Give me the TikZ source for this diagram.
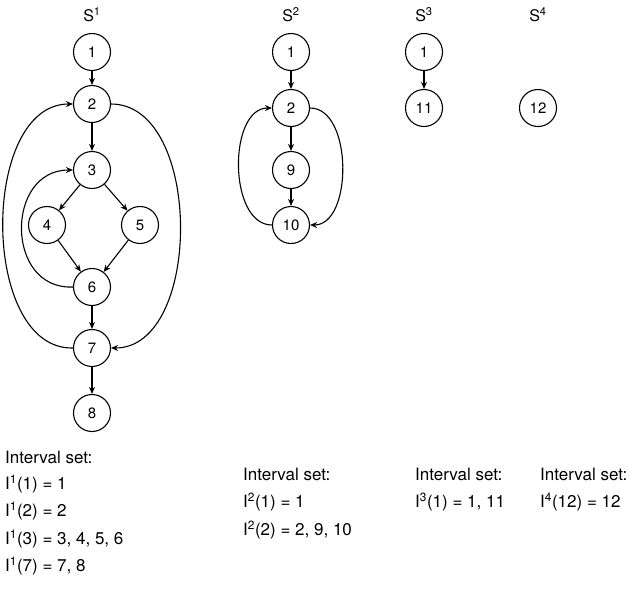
\documentclass[tikz,border=0pt]{standalone}
\usepackage{fontspec}
\setmainfont{TeX Gyre Heros}
\usetikzlibrary{arrows.meta}
\begin{document}
\begin{tikzpicture}[x=1pt,y=-1pt,
  nd/.style={circle,draw,line width=1.1pt,minimum size=37pt,inner sep=0pt,font=\fontsize{15}{17}\selectfont},
  ar/.style={-{Stealth[length=7pt,width=6pt]},line width=1.1pt},
  lab/.style={font=\fontsize{17}{20}\selectfont,anchor=west,inner sep=0pt},
  hd/.style={font=\fontsize{16}{19}\selectfont,inner sep=0pt}]
\useasboundingbox (0,0) rectangle (640,606);
\node[hd] (h1) at (92,15) {S$^{\mathrm{1}}$};
\node[hd] (h2) at (291,15) {S$^{\mathrm{2}}$};
\node[hd] (h3) at (424,15) {S$^{\mathrm{3}}$};
\node[hd] (h4) at (538,15) {S$^{\mathrm{4}}$};
\node[nd] (a1) at (92,52) {1};
\node[nd] (a2) at (92,104) {2};
\node[nd] (a3) at (92,170) {3};
\node[nd] (a4) at (47,225) {4};
\node[nd] (a5) at (140,225) {5};
\node[nd] (a6) at (92,287) {6};
\node[nd] (a7) at (92,348) {7};
\node[nd] (a8) at (92,413) {8};
\draw[ar] (a1)--(a2);
\draw[ar] (a2)--(a3);
\draw[ar] (a3)--(a4);
\draw[ar] (a3)--(a5);
\draw[ar] (a4)--(a6);
\draw[ar] (a5)--(a6);
\draw[ar] (a6)--(a7);
\draw[ar] (a7)--(a8);
\draw[ar] (a6.west) .. controls (5,290) and (5,170) .. (a3.west);
\draw[ar] (a7.west) .. controls (-20,350) and (-20,104) .. (a2.west);
\draw[ar] (a2.east) .. controls (203,104) and (203,348) .. (a7.east);
\node[nd] (b1) at (291,52) {1};
\node[nd] (b2) at (291,108) {2};
\node[nd] (b9) at (291,170) {9};
\node[nd] (b10) at (291,225) {10};
\draw[ar] (b1)--(b2);
\draw[ar] (b2)--(b9);
\draw[ar] (b9)--(b10);
\draw[ar] (b10.west) .. controls (228,225) and (228,108) .. (b2.west);
\draw[ar] (b2.east) .. controls (353,108) and (353,225) .. (b10.east);
\node[nd] (c1) at (424,52) {1};
\node[nd] (c11) at (424,108) {11};
\draw[ar] (c1)--(c11);
\node[nd] (d12) at (538,108) {12};
\node[lab] (t1) at (5,457) {Interval set:};
\node[lab] (t2) at (5,484) {I$^{\mathrm{1}}$(1) = 1};
\node[lab] (t3) at (5,511) {I$^{\mathrm{1}}$(2) = 2};
\node[lab] (t4) at (5,539) {I$^{\mathrm{1}}$(3) = 3, 4, 5, 6};
\node[lab] (t5) at (5,566) {I$^{\mathrm{1}}$(7) = 7, 8};
\node[lab] (u1) at (243,474) {Interval set:};
\node[lab] (u2) at (243,502) {I$^{\mathrm{2}}$(1) = 1};
\node[lab] (u3) at (243,530) {I$^{\mathrm{2}}$(2) = 2, 9, 10};
\node[lab] (v1) at (415,474) {Interval set:};
\node[lab] (v2) at (415,502) {I$^{\mathrm{3}}$(1) = 1, 11};
\node[lab] (w1) at (540,474) {Interval set:};
\node[lab] (w2) at (540,502) {I$^{\mathrm{4}}$(12) = 12};
\end{tikzpicture}
\end{document}
